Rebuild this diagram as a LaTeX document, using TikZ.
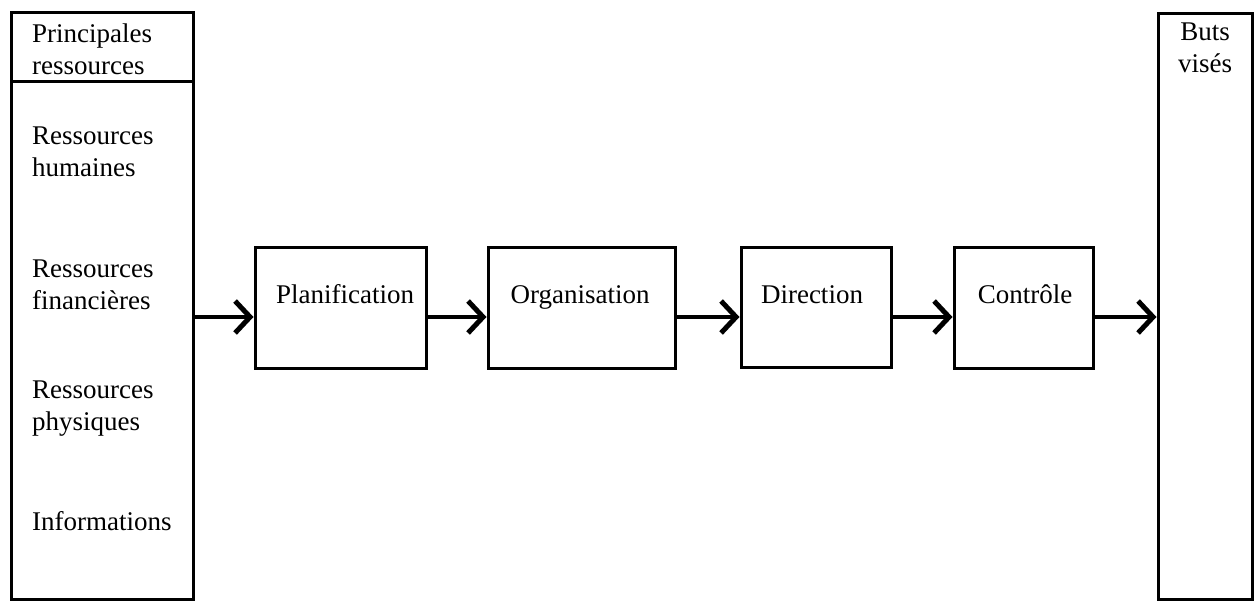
\documentclass[tikz,border=0pt]{standalone}
\usepackage{fontspec}
\setmainfont{Liberation Serif}
\usetikzlibrary{arrows.meta}
\begin{document}
\begin{tikzpicture}[x=1pt,y=-1pt,
  frame/.style={draw=black,line width=3pt,rectangle,inner sep=0pt},
  txt/.style={inner sep=0pt,anchor=base west,font=\fontsize{27}{32}\selectfont},
  ctxt/.style={inner sep=0pt,anchor=base,font=\fontsize{27}{32}\selectfont},
  arr/.style={line width=3.2pt,-{Straight Barb[length=15pt,width=32pt,line width=5pt]}}]
\useasboundingbox (0,0) rectangle (1255,601);
% panels
\node[frame,minimum width=182pt,minimum height=586pt] (lp) at (102,306) {};
\node[frame,minimum width=182pt,minimum height=69pt] (lh) at (102,47.5) {};
\node[frame,minimum width=94pt,minimum height=585pt] (rp) at (1205,306.5) {};
% boxes
\node[frame,minimum width=171pt,minimum height=120pt] (plan) at (340.5,308) {};
\node[frame,minimum width=187pt,minimum height=120pt] (org) at (581.5,308) {};
\node[frame,minimum width=150pt,minimum height=119pt] (dir) at (816,307.5) {};
\node[frame,minimum width=139pt,minimum height=120pt] (con) at (1023.5,308) {};
% left texts
\node[txt] (t1) at (32,43) {Principales};
\node[txt] (t2) at (32,75) {ressources};
\node[txt] (t3) at (32,145) {Ressources};
\node[txt] (t4) at (32,177) {humaines};
\node[txt] (t5) at (32,278) {Ressources};
\node[txt] (t6) at (32,310) {financières};
\node[txt] (t7) at (32,398) {Ressources};
\node[txt] (t8) at (32,430) {physiques};
\node[txt] (t9) at (32,530) {Informations};
% right texts
\node[ctxt] (b1) at (1205,41) {Buts};
\node[ctxt] (b2) at (1205,73) {visés};
% box labels
\node[ctxt] (lplan) at (345,304) {Planification};
\node[ctxt] (lorg) at (580,304) {Organisation};
\node[ctxt] (ldir) at (812,304) {Direction};
\node[ctxt] (lcon) at (1025,304) {Contrôle};
% arrows
\draw[arr] (lp.east |- 0,317) -- (plan.west |- 0,317);
\draw[arr] (plan.east |- 0,317) -- (org.west |- 0,317);
\draw[arr] (org.east |- 0,317) -- (dir.west |- 0,317);
\draw[arr] (dir.east |- 0,317) -- (con.west |- 0,317);
\draw[arr] (con.east |- 0,317) -- (rp.west |- 0,317);
\end{tikzpicture}
\end{document}
